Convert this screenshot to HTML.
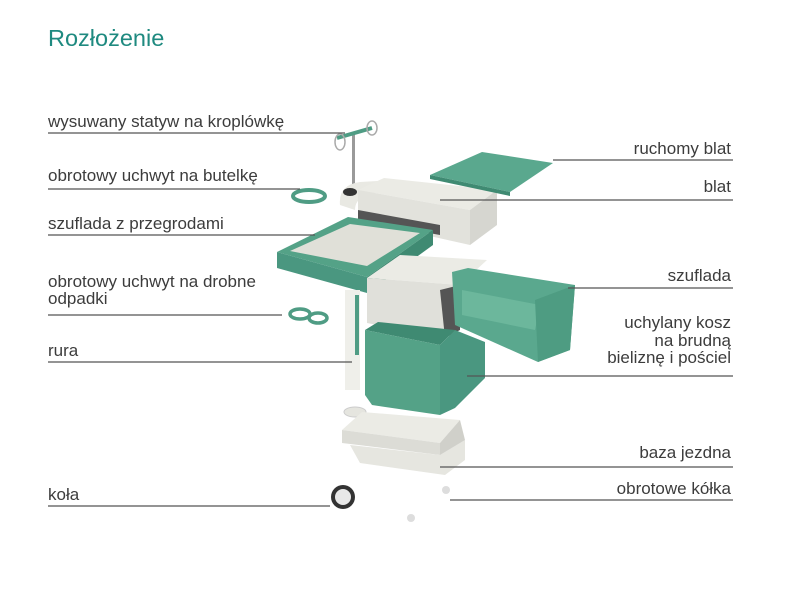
<!DOCTYPE html>
<html><head><meta charset="utf-8"><style>
body{margin:0;background:#fff}
svg{display:block}
text{font-family:"Liberation Sans",sans-serif;font-size:17px;fill:#3c3c3c}
</style></head><body>
<svg width="800" height="600" viewBox="0 0 800 600" xmlns="http://www.w3.org/2000/svg">
<rect width="800" height="600" fill="#fff"/>
<text x="48" y="46" style="font-size:23.5px;fill:#1f8a80">Rozłożenie</text>

<g stroke="none">
<rect x="352" y="133" width="3" height="60" fill="#9a9a9a"/>
<path d="M337 138 L372 128" stroke="#4f9c84" stroke-width="4"/>
<ellipse cx="340" cy="142" rx="5" ry="8" fill="none" stroke="#aaa" stroke-width="1.5"/>
<ellipse cx="372" cy="128" rx="5" ry="7" fill="none" stroke="#aaa" stroke-width="1.5"/>
<ellipse cx="309" cy="196" rx="16" ry="6" fill="none" stroke="#4f9c84" stroke-width="4"/>
<path d="M340 205 Q338 185 360 182 L395 180 Q400 178 390 188 L365 196 Q355 200 355 210 Z" fill="#e9e9e3"/>
<ellipse cx="350" cy="192" rx="7" ry="4" fill="#333"/>
<polygon points="358,190 384,178 497,190 470,210" fill="#ebebe5"/>
<polygon points="358,190 470,210 470,245 358,220" fill="#e2e2dc"/>
<polygon points="470,210 497,190 497,225 470,245" fill="#d6d6d0"/>
<polygon points="358,210 440,225 440,235 358,220" fill="#555"/>
<polygon points="430,175 482,152 553,163 510,192" fill="#5aa88e"/>
<polygon points="430,175 510,192 510,196 430,179" fill="#3f8a72"/>
<polygon points="277,252 348,217 433,230 367,277" fill="#54a287"/>
<polygon points="290,251 350,224 420,233 367,266" fill="#e0e0d8"/>
<polygon points="277,252 367,277 367,293 277,268" fill="#4a9780"/>
<polygon points="367,277 433,230 433,245 367,293" fill="#3f8a72"/>
<polygon points="367,278 400,255 487,260 460,285" fill="#ebebe5"/>
<polygon points="367,278 460,285 445,338 367,323" fill="#e0e0da"/>
<polygon points="440,290 460,285 460,330 445,338" fill="#555"/>
<rect x="345" y="290" width="15" height="100" fill="#efefea"/>
<rect x="355" y="295" width="4" height="60" fill="#4f9c84"/>
<ellipse cx="300" cy="314" rx="10" ry="5" fill="none" stroke="#4f9c84" stroke-width="3.5"/>
<ellipse cx="318" cy="318" rx="9" ry="5" fill="none" stroke="#4f9c84" stroke-width="3.5"/>
<polygon points="452,272 468,268 575,285 570,350 538,362 455,325" fill="#5aa88e"/>
<polygon points="462,290 540,305 535,330 462,315" fill="#6cb79c"/>
<polygon points="535,300 575,285 570,350 538,362" fill="#4e9c82"/>
<polygon points="365,330 378,322 455,330 440,345" fill="#3f8a72"/>
<polygon points="365,330 440,345 440,415 372,405 365,395" fill="#54a287"/>
<polygon points="440,345 455,330 485,342 485,378 455,408 440,415" fill="#4a9780"/>
<ellipse cx="355" cy="412" rx="11" ry="5" fill="#e5e5df" stroke="#ccc"/>
<polygon points="342,430 362,412 460,420 440,443" fill="#ebebe5"/>
<polygon points="342,430 440,443 440,455 342,443" fill="#dcdcd6"/>
<polygon points="350,445 440,455 465,440 465,460 445,475 360,463" fill="#e6e6e0"/>
<polygon points="440,443 460,420 465,440 440,455" fill="#d0d0ca"/>
<circle cx="343" cy="497" r="12" fill="#333"/>
<circle cx="343" cy="497" r="8" fill="#e8e8e8"/>
<circle cx="446" cy="490" r="4" fill="#ddd"/>
<circle cx="411" cy="518" r="4" fill="#ddd"/>
</g>

<g stroke="#555" stroke-width="1.3">
<line x1="48" y1="133" x2="345" y2="133"/>
<line x1="48" y1="189" x2="300" y2="189"/>
<line x1="48" y1="235" x2="315" y2="235"/>
<line x1="48" y1="315" x2="282" y2="315"/>
<line x1="48" y1="362" x2="352" y2="362"/>
<line x1="48" y1="506" x2="330" y2="506"/>
<line x1="553" y1="160" x2="733" y2="160"/>
<line x1="440" y1="200" x2="733" y2="200"/>
<line x1="568" y1="288" x2="733" y2="288"/>
<line x1="467" y1="376" x2="733" y2="376"/>
<line x1="440" y1="467" x2="733" y2="467"/>
<line x1="450" y1="500" x2="733" y2="500"/>
</g>

<text x="48" y="127">wysuwany statyw na kroplówkę</text>
<text x="48" y="181">obrotowy uchwyt na butelkę</text>
<text x="48" y="229">szuflada z przegrodami</text>
<text x="48" y="287">obrotowy uchwyt na drobne</text>
<text x="48" y="304">odpadki</text>
<text x="48" y="356">rura</text>
<text x="48" y="500">koła</text>
<g text-anchor="end">
<text x="731" y="154">ruchomy blat</text>
<text x="731" y="192">blat</text>
<text x="731" y="281">szuflada</text>
<text x="731" y="328">uchylany kosz</text>
<text x="731" y="346">na brudną</text>
<text x="731" y="363">bieliznę i pościel</text>
<text x="731" y="458">baza jezdna</text>
<text x="731" y="494">obrotowe kółka</text>
</g>
</svg>
</body></html>
